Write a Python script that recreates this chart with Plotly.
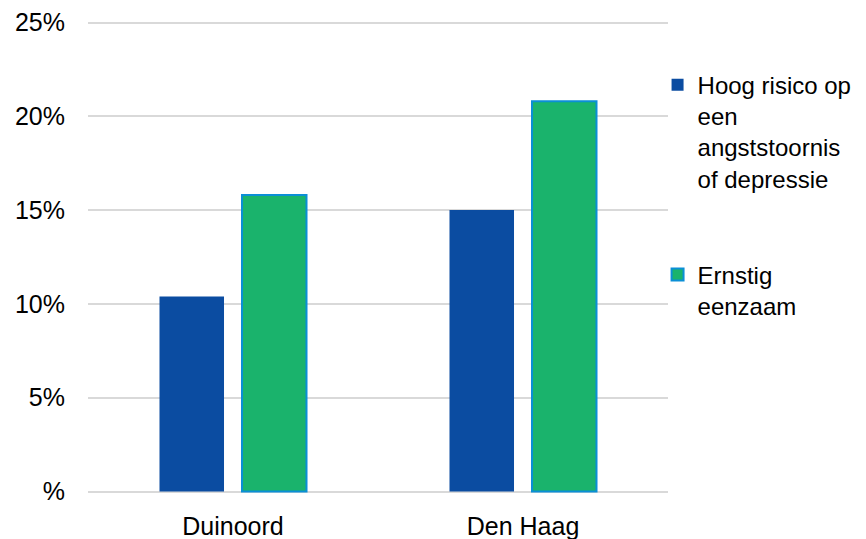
import plotly.graph_objects as go

categories = ["Duinoord", "Den Haag"]
series_names = ["Hoog risico op<br>een<br>angststoornis<br>of depressie", "Ernstig<br>eenzaam"]
hoog_risico = [10.4, 15.0]
ernstig_eenzaam = [15.8, 20.8]
tick_vals = [0, 5, 10, 15, 20, 25]
tick_text = ["%", "5%", "10%", "15%", "20%", "25%"]

FONT = "Liberation Sans, Arial, sans-serif"

fig = go.Figure()
fig.add_trace(go.Bar(
    x=categories, y=hoog_risico, name=series_names[0],
    marker=dict(color="#0B4CA1", line=dict(width=0)),
    legendgroup="a",
))
fig.add_trace(go.Bar(
    x=categories, y=ernstig_eenzaam, name=series_names[1],
    marker=dict(color="#1AB36C", line=dict(color="#0B8FD6", width=2)),
    legendgroup="b",
))

fig.update_layout(
    width=866, height=539,
    margin=dict(l=88, r=198, t=21, b=46, autoexpand=False),
    paper_bgcolor="white", plot_bgcolor="white",
    barmode="group", bargap=0.431, bargroupgap=0.218,
    font=dict(family=FONT, size=25, color="#000000"),
    showlegend=True,
    legend=dict(
        x=0.982, y=0.912, xanchor="left", yanchor="top",
        valign="top", traceorder="grouped", tracegroupgap=62,
        font=dict(family=FONT, size=24, color="#000000"),
        bgcolor="rgba(0,0,0,0)",
    ),
    xaxis=dict(
        showgrid=False, showline=False, zeroline=False, automargin=False,
        ticks="", tickfont=dict(size=25), ticklabelstandoff=16,
    ),
    yaxis=dict(
        range=[-0.08, 25.08], tickvals=tick_vals, ticktext=tick_text,
        showgrid=True, gridcolor="#D9D9D9", gridwidth=2, automargin=False,
        zeroline=False, showline=False, ticks="",
        tickfont=dict(size=25), ticklabelstandoff=22,
    ),
)

fig.write_html(
    "out.html",
    config={"displayModeBar": False},
    post_script="document.body.style.margin='0';document.body.style.overflow='hidden';",
)
